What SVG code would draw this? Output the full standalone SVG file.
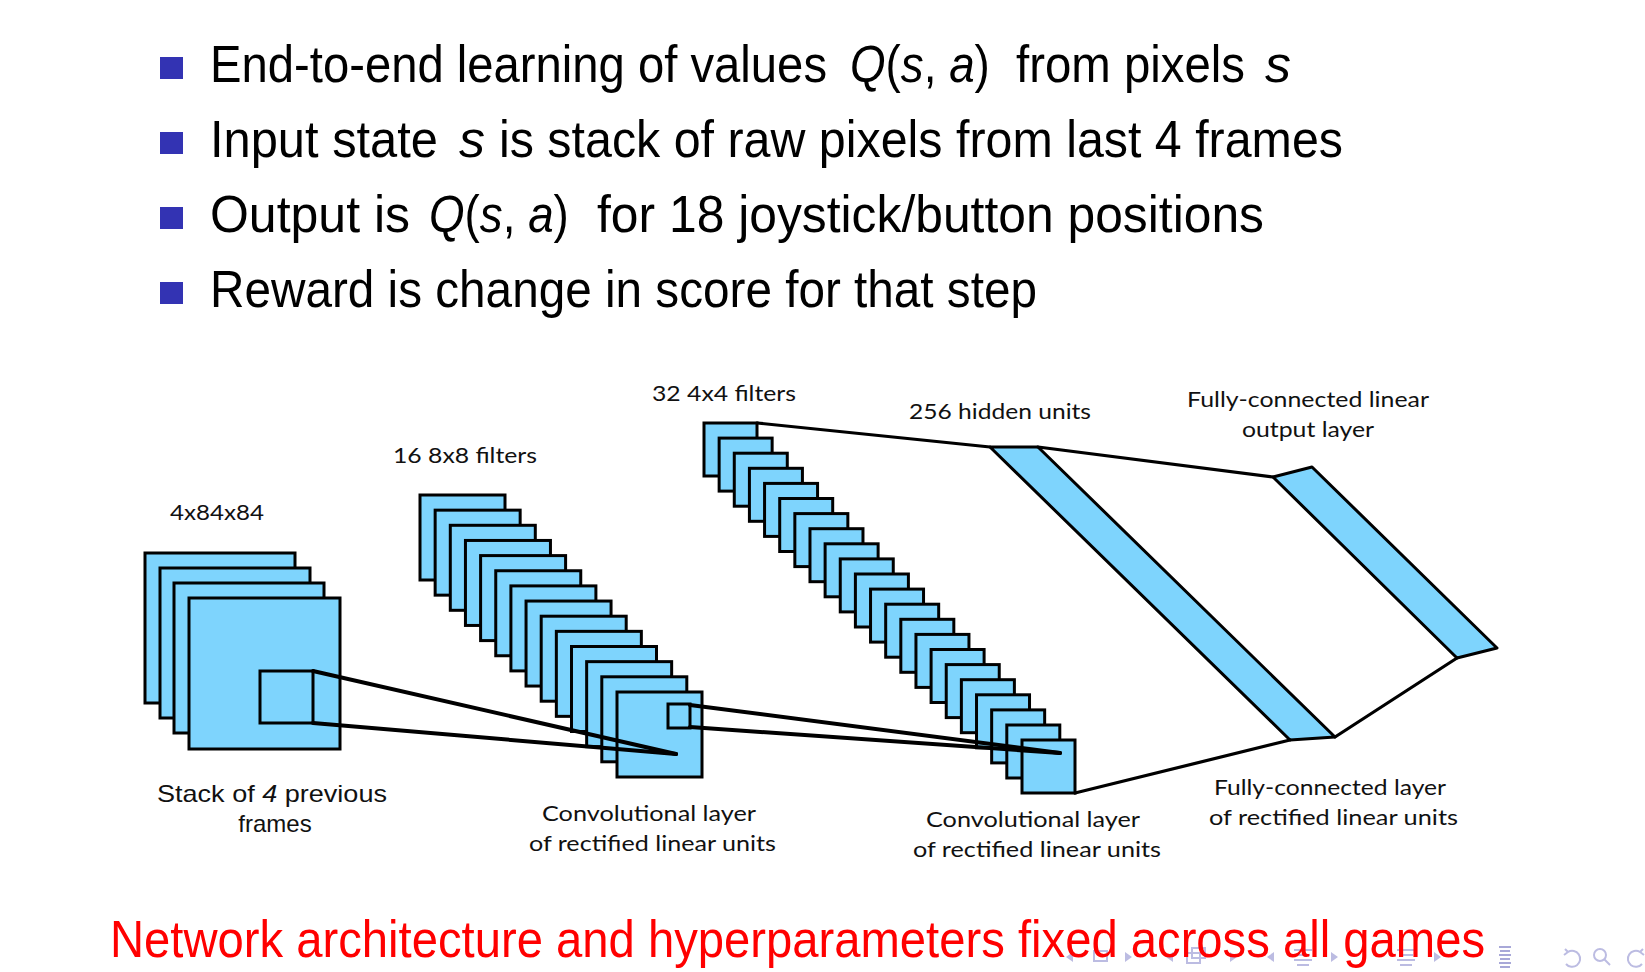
<svg xmlns="http://www.w3.org/2000/svg" width="1645" height="972" viewBox="0 0 1645 972">
  <style>
    .bullet { fill: #3333b3; }
    .slide { font-family: "Liberation Sans", "DejaVu Sans", sans-serif; font-size: 52px; fill: #000; }
    .m { font-style: italic; }
    .red { fill: #ff0000; }
    .lbl { font-family: "Lato", "Open Sans", "Liberation Sans", sans-serif; font-size: 22px; fill: #111; }
    .cap { font-family: "Liberation Sans", "Arial", sans-serif; font-size: 24px; fill: #111; }
    .map { fill: #7ed4fd; stroke: #000; stroke-width: 3; }
    .band { fill: #7ed4fd; stroke: #000; stroke-width: 3; stroke-linejoin: round; }
    .conn { stroke: #000; stroke-width: 3.2; fill: none; stroke-linecap: round; }
    .conv { stroke: #000; stroke-width: 4; fill: none; stroke-linecap: round; }
    .nav { fill: #bcbce2; }
    .navs { fill: none; stroke: #bcbce2; stroke-width: 2; }
  </style>

  <rect width="1645" height="972" fill="#ffffff"/>

  <!-- bullet list -->
  <g id="bullets">
    <rect class="bullet" x="160" y="57" width="23" height="22"/>
    <rect class="bullet" x="160" y="132" width="23" height="22"/>
    <rect class="bullet" x="160" y="207" width="23" height="22"/>
    <rect class="bullet" x="160" y="282" width="23" height="22"/>

    <text class="slide" x="210" y="82" textLength="617" lengthAdjust="spacingAndGlyphs">End-to-end learning of values</text>
    <text class="slide" transform="translate(850,82) scale(0.88,1)"><tspan class="m">Q</tspan>(<tspan class="m">s</tspan>, <tspan class="m">a</tspan>)</text>
    <text class="slide" x="1016" y="82" textLength="229" lengthAdjust="spacingAndGlyphs">from pixels</text>
    <text class="slide m" x="1265" y="82">s</text>

    <text class="slide" x="210" y="157" textLength="228" lengthAdjust="spacingAndGlyphs">Input state</text>
    <text class="slide m" x="459" y="157">s</text>
    <text class="slide" x="499" y="157" textLength="844" lengthAdjust="spacingAndGlyphs">is stack of raw pixels from last 4 frames</text>

    <text class="slide" x="210" y="232" textLength="200" lengthAdjust="spacingAndGlyphs">Output is</text>
    <text class="slide" transform="translate(429,232) scale(0.88,1)"><tspan class="m">Q</tspan>(<tspan class="m">s</tspan>, <tspan class="m">a</tspan>)</text>
    <text class="slide" x="597" y="232" textLength="667" lengthAdjust="spacingAndGlyphs">for 18 joystick/button positions</text>

    <text class="slide" x="210" y="307" textLength="827" lengthAdjust="spacingAndGlyphs">Reward is change in score for that step</text>
  </g>

  <!-- input: stack of 4 frames -->
  <g id="input-stack">
    <rect class="map" x="145" y="553" width="150" height="150"/>
    <rect class="map" x="160" y="568" width="150" height="150"/>
    <rect class="map" x="174" y="583" width="150" height="150"/>
    <rect class="map" x="189" y="598" width="151" height="151"/>
    <rect class="map" x="260" y="671" width="53" height="52"/>
    <text class="lbl" x="170" y="520" textLength="94" lengthAdjust="spacingAndGlyphs">4x84x84</text>
    <text class="cap" x="157" y="802" textLength="230" lengthAdjust="spacingAndGlyphs">Stack of <tspan font-style="italic">4</tspan> previous</text>
    <text class="cap" x="275" y="832" text-anchor="middle">frames</text>
  </g>

  <!-- first convolutional layer: 14 maps, offset 15.15 -->
  <g id="conv1">
    <rect class="map" x="420" y="495" width="85" height="85"/>
    <rect class="map" x="435.15" y="510.15" width="85" height="85"/>
    <rect class="map" x="450.3" y="525.3" width="85" height="85"/>
    <rect class="map" x="465.45" y="540.45" width="85" height="85"/>
    <rect class="map" x="480.6" y="555.6" width="85" height="85"/>
    <rect class="map" x="495.75" y="570.75" width="85" height="85"/>
    <rect class="map" x="510.9" y="585.9" width="85" height="85"/>
    <rect class="map" x="526.05" y="601.05" width="85" height="85"/>
    <rect class="map" x="541.2" y="616.2" width="85" height="85"/>
    <rect class="map" x="556.35" y="631.35" width="85" height="85"/>
    <rect class="map" x="571.5" y="646.5" width="85" height="85"/>
    <rect class="map" x="586.65" y="661.65" width="85" height="85"/>
    <rect class="map" x="601.8" y="676.8" width="85" height="85"/>
    <rect class="map" x="617" y="692" width="85" height="85"/>
    <rect class="map" x="668" y="704" width="22" height="24"/>
    <text class="lbl" x="393" y="463" textLength="144" lengthAdjust="spacingAndGlyphs">16 8x8 filters</text>
    <text class="lbl" x="542" y="821" textLength="214" lengthAdjust="spacingAndGlyphs">Convolutional layer</text>
    <text class="lbl" x="529" y="851" textLength="247" lengthAdjust="spacingAndGlyphs">of rectified linear units</text>
  </g>

  <!-- second convolutional layer: 22 maps, offset 15.14 -->
  <g id="conv2">
    <rect class="map" x="704" y="423" width="53" height="53"/>
    <rect class="map" x="719.14" y="438.1" width="53" height="53"/>
    <rect class="map" x="734.28" y="453.2" width="53" height="53"/>
    <rect class="map" x="749.42" y="468.3" width="53" height="53"/>
    <rect class="map" x="764.56" y="483.4" width="53" height="53"/>
    <rect class="map" x="779.7" y="498.5" width="53" height="53"/>
    <rect class="map" x="794.84" y="513.6" width="53" height="53"/>
    <rect class="map" x="809.98" y="528.7" width="53" height="53"/>
    <rect class="map" x="825.12" y="543.8" width="53" height="53"/>
    <rect class="map" x="840.26" y="558.9" width="53" height="53"/>
    <rect class="map" x="855.4" y="574" width="53" height="53"/>
    <rect class="map" x="870.54" y="589.1" width="53" height="53"/>
    <rect class="map" x="885.68" y="604.2" width="53" height="53"/>
    <rect class="map" x="900.82" y="619.3" width="53" height="53"/>
    <rect class="map" x="915.96" y="634.4" width="53" height="53"/>
    <rect class="map" x="931.1" y="649.5" width="53" height="53"/>
    <rect class="map" x="946.24" y="664.6" width="53" height="53"/>
    <rect class="map" x="961.38" y="679.7" width="53" height="53"/>
    <rect class="map" x="976.52" y="694.8" width="53" height="53"/>
    <rect class="map" x="991.66" y="709.9" width="53" height="53"/>
    <rect class="map" x="1006.8" y="725" width="53" height="53"/>
    <rect class="map" x="1022" y="740" width="53" height="53"/>
    <text class="lbl" x="652" y="401" textLength="144" lengthAdjust="spacingAndGlyphs">32 4x4 filters</text>
    <text class="lbl" x="926" y="827" textLength="214" lengthAdjust="spacingAndGlyphs">Convolutional layer</text>
    <text class="lbl" x="913" y="857" textLength="248" lengthAdjust="spacingAndGlyphs">of rectified linear units</text>
  </g>

  <!-- fully-connected hidden layer -->
  <g id="hidden">
    <polygon class="band" points="990,447 1038,447 1335,737 1290,740"/>
    <text class="lbl" x="909" y="419" textLength="182" lengthAdjust="spacingAndGlyphs">256 hidden units</text>
    <text class="lbl" x="1214" y="795" textLength="232" lengthAdjust="spacingAndGlyphs">Fully-connected layer</text>
    <text class="lbl" x="1209" y="825" textLength="249" lengthAdjust="spacingAndGlyphs">of rectified linear units</text>
  </g>

  <!-- linear output layer -->
  <g id="output">
    <polygon class="band" points="1273,477 1312,467 1497,648 1457,658"/>
    <text class="lbl" x="1187" y="407" textLength="242" lengthAdjust="spacingAndGlyphs">Fully-connected linear</text>
    <text class="lbl" x="1242" y="437" textLength="132" lengthAdjust="spacingAndGlyphs">output layer</text>
  </g>

  <!-- connectors -->
  <g id="connectors">
    <line class="conv" x1="313" y1="671" x2="676" y2="754"/>
    <line class="conv" x1="313" y1="723" x2="676" y2="754"/>
    <line class="conv" x1="690" y1="705" x2="1060" y2="753"/>
    <line class="conv" x1="690" y1="727" x2="1060" y2="753"/>
    <line class="conn" x1="757" y1="423" x2="990" y2="447"/>
    <line class="conn" x1="1038" y1="447" x2="1273" y2="477"/>
    <line class="conn" x1="1075" y1="793" x2="1290" y2="740"/>
    <line class="conn" x1="1335" y1="737" x2="1457" y2="658"/>
  </g>

  <!-- navigation symbols -->
  <g id="navigation">
    <polygon class="nav" points="1073,952 1066,957 1073,962"/>
    <rect class="navs" x="1094" y="951" width="13" height="10"/>
    <polygon class="nav" points="1125,952 1132,957 1125,962"/>
    <polygon class="nav" points="1173,952 1166,957 1173,962"/>
    <rect class="navs" x="1187" y="953" width="13" height="10"/>
    <rect class="navs" x="1192" y="948" width="13" height="10"/>
    <polygon class="nav" points="1230,952 1237,957 1230,962"/>
    <polygon class="nav" points="1274,952 1267,957 1274,962"/>
    <path class="navs" d="M1294,950 H1312 M1296,955 H1310 M1294,960 H1312 M1297,965 H1309"/>
    <polygon class="nav" points="1331,952 1338,957 1331,962"/>
    <path class="navs" d="M1397,950 H1415 M1399,955 H1413 M1397,960 H1415 M1400,965 H1412"/>
    <polygon class="nav" points="1434,952 1441,957 1434,962"/>
    <path d="M1499,947 H1511 M1500,951 H1510 M1499,955 H1511 M1500,959 H1510 M1499,963 H1511 M1500,967 H1510" stroke="#a8a8d8" stroke-width="2.2" fill="none"/>
    <path class="navs" d="M1568,952 A8,8 0 1 1 1566,964 M1565,949 L1568,952 L1564,955"/>
    <circle class="navs" cx="1600" cy="955" r="6"/>
    <path class="navs" d="M1604,959 L1610,965"/>
    <path class="navs" d="M1640,952 A8,8 0 1 0 1642,964 M1643,949 L1640,952 L1644,955"/>
  </g>

  <!-- closing statement -->
  <text class="slide red" x="110" y="957" textLength="1375" lengthAdjust="spacingAndGlyphs">Network architecture and hyperparameters fixed across all games</text>
</svg>
